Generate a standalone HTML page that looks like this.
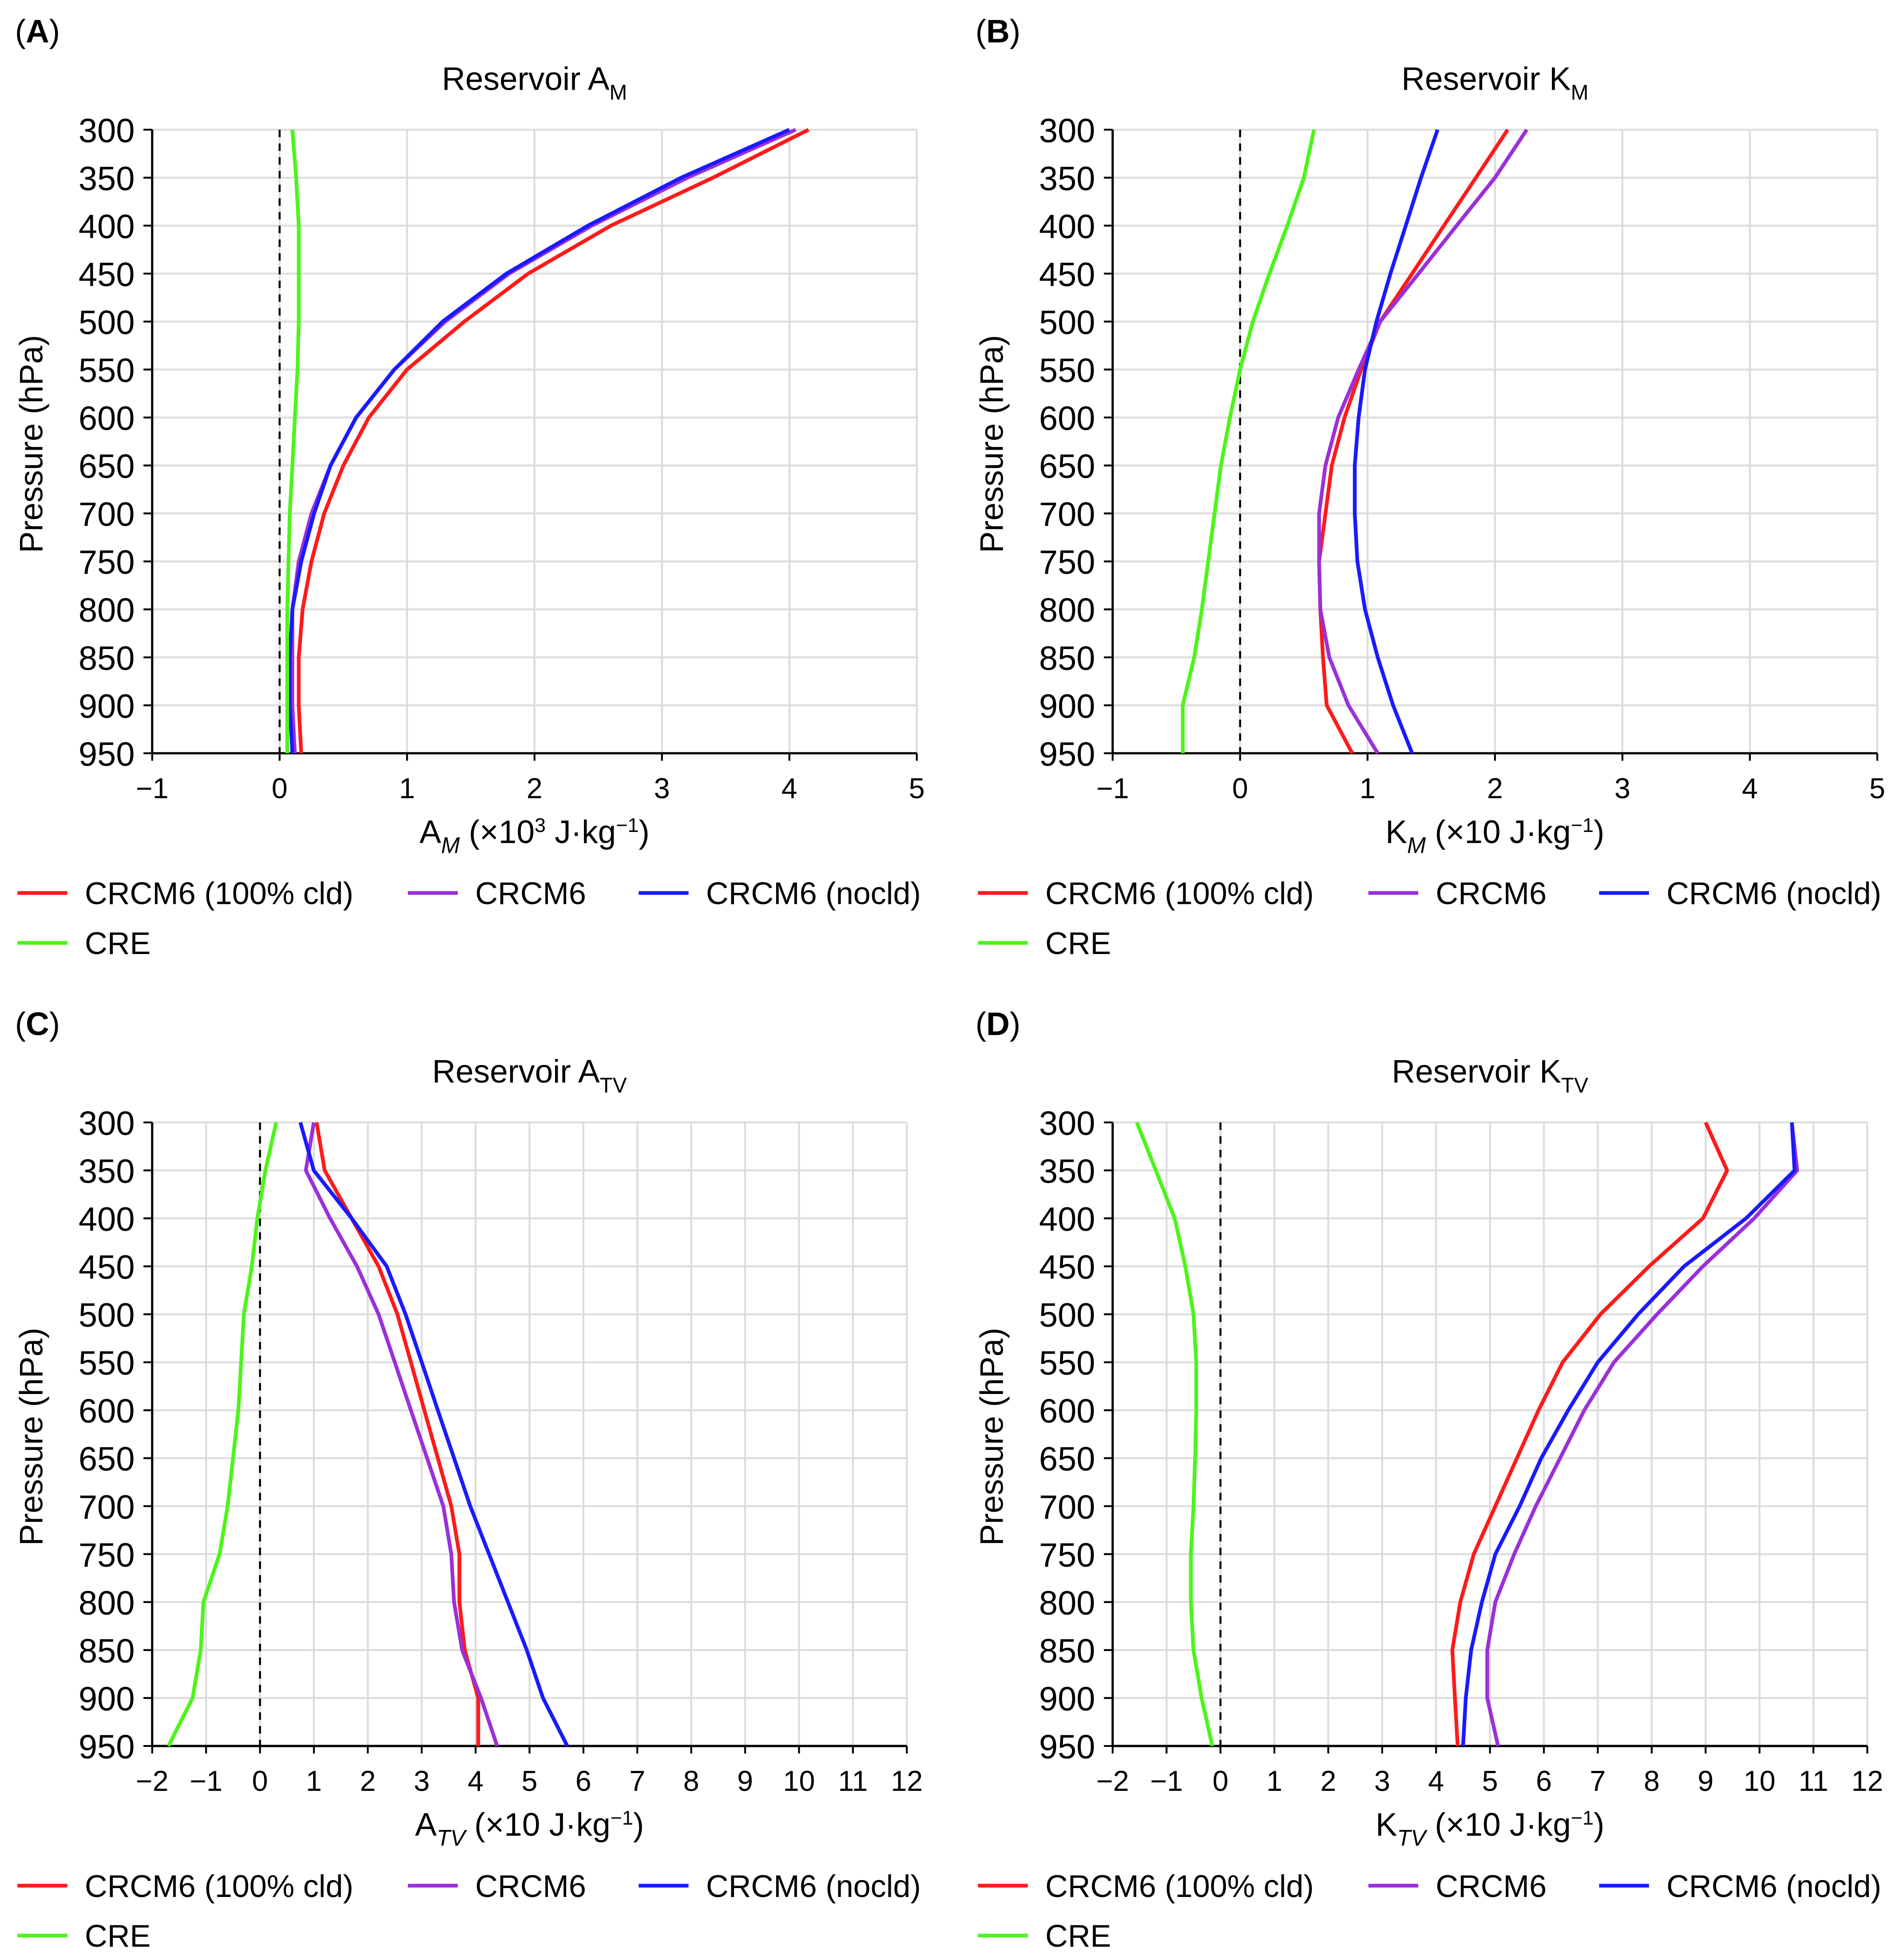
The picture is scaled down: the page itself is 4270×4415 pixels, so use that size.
<!DOCTYPE html>
<html><head><meta charset="utf-8"><style>
html,body{margin:0;padding:0;background:#fff;}
svg{display:block;font-family:"Liberation Sans",sans-serif;}
</style></head><body>
<svg id="fig" width="4270" height="4415" viewBox="0 0 1520 1571.6" preserveAspectRatio="none" xmlns="http://www.w3.org/2000/svg"></svg>
<script>
const pressures=[300,350,400,450,500,550,600,650,700,750,800,850,900,950];
const seriesNames=["CRCM6 (100% cld)","CRCM6","CRCM6 (nocld)","CRE"];
const colors=["#ff1a1a","#9b30d9","#1a1aff","#4cf51a"];
// Panel A
const aRed=[4.15,3.4,2.6,1.95,1.45,1.0,0.7,0.5,0.35,0.25,0.18,0.15,0.15,0.17];
const aPurple=[4.05,3.2,2.45,1.8,1.3,0.9,0.6,0.4,0.25,0.15,0.1,0.1,0.1,0.12];
const aBlue=[4.0,3.15,2.42,1.78,1.28,0.9,0.6,0.4,0.27,0.17,0.1,0.08,0.08,0.1];
const aGreen=[0.1,0.13,0.15,0.15,0.15,0.14,0.12,0.1,0.08,0.07,0.06,0.06,0.06,0.06];
// Panel B
const bRed=[2.1,1.85,1.6,1.35,1.1,0.95,0.82,0.72,0.67,0.62,0.63,0.65,0.68,0.88];
const bPurple=[2.25,2.0,1.7,1.4,1.1,0.93,0.77,0.67,0.62,0.62,0.63,0.7,0.85,1.08];
const bBlue=[1.55,1.42,1.3,1.18,1.07,0.98,0.93,0.9,0.9,0.92,0.98,1.08,1.2,1.35];
const bGreen=[0.58,0.5,0.37,0.23,0.1,0.0,-0.08,-0.15,-0.2,-0.25,-0.3,-0.36,-0.45,-0.45];
// Panel C
const cRed=[1.05,1.2,1.7,2.2,2.55,2.8,3.05,3.3,3.55,3.7,3.7,3.8,4.05,4.05];
const cPurple=[1.0,0.85,1.3,1.8,2.2,2.5,2.8,3.1,3.4,3.55,3.6,3.75,4.1,4.4];
const cBlue=[0.75,1.0,1.7,2.35,2.7,3.0,3.3,3.6,3.9,4.25,4.6,4.95,5.25,5.7];
const cGreen=[0.3,0.1,-0.05,-0.15,-0.3,-0.35,-0.4,-0.5,-0.6,-0.75,-1.05,-1.1,-1.25,-1.7];
// Panel D
const dRed=[9.0,9.4,8.95,7.95,7.05,6.35,5.9,5.5,5.1,4.7,4.45,4.3,4.35,4.4];
const dPurple=[10.6,10.7,9.9,8.95,8.1,7.3,6.75,6.3,5.85,5.45,5.1,4.95,4.95,5.15];
const dBlue=[10.6,10.65,9.75,8.6,7.75,7.0,6.45,5.95,5.55,5.1,4.85,4.65,4.55,4.5];
const dGreen=[-1.55,-1.2,-0.85,-0.65,-0.5,-0.45,-0.45,-0.47,-0.5,-0.55,-0.55,-0.5,-0.35,-0.15];

const NS="http://www.w3.org/2000/svg";
const svg=document.getElementById('fig');
function mk(tag,attrs,parent){const e=document.createElementNS(NS,tag);for(const k in attrs)e.setAttribute(k,attrs[k]);(parent||svg).appendChild(e);return e;}

const panels=[
 {id:"a",letter:"A",ox:0,oy:0,x0:122,x1:735,xmin:-1,xmax:5,sym:"A",sub:"M",unit:"3",data:[aRed,aPurple,aBlue,aGreen]},
 {id:"b",letter:"B",ox:770,oy:0,x0:892,x1:1505,xmin:-1,xmax:5,sym:"K",sub:"M",unit:"",data:[bRed,bPurple,bBlue,bGreen]},
 {id:"c",letter:"C",ox:0,oy:796,x0:122,x1:727,xmin:-2,xmax:12,sym:"A",sub:"TV",unit:"",data:[cRed,cPurple,cBlue,cGreen]},
 {id:"d",letter:"D",ox:770,oy:796,x0:892,x1:1497,xmin:-2,xmax:12,sym:"K",sub:"TV",unit:"",data:[dRed,dPurple,dBlue,dGreen]}
];
panels.forEach(P=>{
 const g=mk('g',{});
 
 
 const yT=104+P.oy,yB=604+P.oy;
 const sx=v=>P.x0+(v-P.xmin)/(P.xmax-P.xmin)*(P.x1-P.x0);
 const sy=p=>yT+(p-300)/650*(yB-yT);
 const lab=mk('text',{x:P.ox+12,y:P.oy+34,'font-size':26},g);
 
 
 lab.innerHTML='(<tspan font-weight="bold">'+P.letter+'</tspan>)';
 const cx=(P.x0+P.x1)/2;
 const t=mk('text',{x:cx,y:P.oy+72,'font-size':26,'text-anchor':'middle'},g);
 
 
 t.innerHTML='Reservoir '+P.sym+'<tspan font-size="17" dy="8">'+P.sub+'</tspan>';
 for(let v=P.xmin;v<=P.xmax;v++){
  const l=mk('line',{x1:sx(v),x2:sx(v),y1:yT,y2:yB,stroke:'#dcdcdc','stroke-width':1.5},g);
  
  
  mk('line',{x1:sx(v),x2:sx(v),y1:yB,y2:yB+6,stroke:'#000','stroke-width':1.5},g);
  const tx=mk('text',{x:sx(v),y:yB+36,'font-size':23,'text-anchor':'middle'},g);
  
  
  tx.textContent=(v<0?'\u2212'+(-v):String(v));
 }
 pressures.forEach(p=>{
  const l=mk('line',{x1:P.x0,x2:P.x1,y1:sy(p),y2:sy(p),stroke:'#dcdcdc','stroke-width':1.5},g);
  
  
  mk('line',{x1:P.x0-7,x2:P.x0,y1:sy(p),y2:sy(p),stroke:'#000','stroke-width':1.5},g);
  const ty=mk('text',{x:P.x0-14,y:sy(p)+10,'font-size':27,'text-anchor':'end'},g);
  
  
  ty.textContent=p;
 });
 mk('line',{x1:P.x0,x2:P.x0,y1:yT,y2:yB,stroke:'#000','stroke-width':1.8},g);
 mk('line',{x1:P.x0,x2:P.x1,y1:yB,y2:yB,stroke:'#000','stroke-width':1.8},g);
 const z=mk('line',{x1:sx(0),x2:sx(0),y1:yT,y2:yB,stroke:'#000','stroke-width':1.6,'stroke-dasharray':'6,5'},g);
 
 
 P.data.forEach((arr,i)=>{
  const pts=arr.map((v,j)=>sx(v).toFixed(1)+','+sy(pressures[j]).toFixed(1)).join(' ');
  const pl=mk('polyline',{points:pts,fill:'none',stroke:colors[i],'stroke-width':3,'stroke-linejoin':'round'},g);
  
  
 });
 const yt=mk('text',{x:0,y:0,'font-size':26,'text-anchor':'middle',transform:'translate('+(P.ox+34)+','+(yT+252)+') rotate(-90)'},g);
 
 
 yt.textContent='Pressure (hPa)';
 const xt=mk('text',{x:cx,y:P.oy+676,'font-size':26,'text-anchor':'middle'},g);
 
 
 xt.innerHTML=P.sym+'<tspan font-size="18" font-style="italic" dy="8">'+P.sub+'</tspan><tspan dy="-8"> (×10</tspan>'+(P.unit?'<tspan font-size="16" dy="-9">'+P.unit+'</tspan><tspan dy="9"> J·kg</tspan>':'<tspan> J·kg</tspan>')+'<tspan font-size="16" dy="-9">−1</tspan><tspan dy="9">)</tspan>';
 const lg=mk('g',{},g);
 
 
 const lx=[14,327,512,14],ly=[716,716,716,756];
 seriesNames.forEach((n,i)=>{
  const e=mk('g',{},lg);
  
  
  mk('line',{x1:P.ox+lx[i],x2:P.ox+lx[i]+40,y1:P.oy+ly[i],y2:P.oy+ly[i],stroke:colors[i],'stroke-width':3},e);
  const tt=mk('text',{x:P.ox+lx[i]+54,y:P.oy+ly[i]+9,'font-size':25},e);
  tt.textContent=n;
 });
});
</script>
</body></html>
